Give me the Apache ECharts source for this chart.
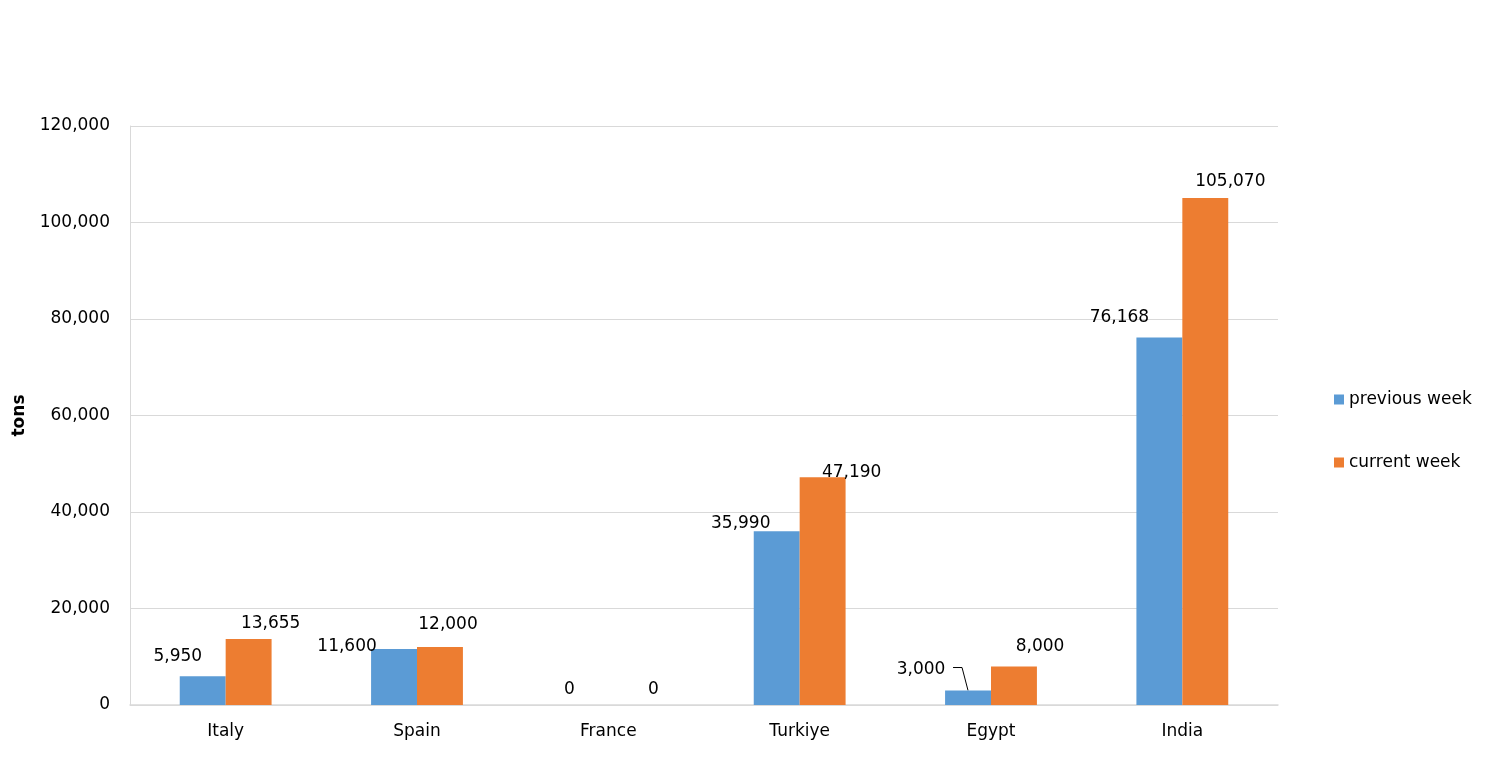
<!DOCTYPE html>
<html>
<head>
<meta charset="utf-8">
<title>tons by country</title>
<script src="https://cdn.jsdelivr.net/npm/echarts@6/dist/echarts.min.js"></script>
<style>
  html, body { margin: 0; padding: 0; background: #fff; }
  #chart { width: 1512px; height: 774px; }
</style>
</head>
<body>
<div id="chart"></div>
<script>
    'use strict';
    // data
    var countries = ['Italy', 'Spain', 'France', 'Turkiye', 'Egypt', 'India'];
    var previousWeek = [5950, 11600, 0, 35990, 3000, 76168];
    var currentWeek = [13655, 12000, 0, 47190, 8000, 105070];
    var yTicks = [0, 20000, 40000, 60000, 80000, 100000, 120000];

    // label placement (offset from bar top centre, px)
    var prevLabelShift = [[-25, -20], [-47, -2], [-16, -15], [-36, -8], [-47, -21], [-40, -20]];
    var currLabelShift = [[22, -16], [8, -23], [22, -15], [29, -5], [26, -20], [25, -16]];
    var leaderIndex = 4; // Egypt, previous week

    var font = 'DejaVu Sans';
    var fmt = function(v) { return Number(v).toLocaleString('en-US'); };

    function buildItems(values, shifts) {
        return values.map(function(v, i) {
            return {
                value : v,
                label : {
                    position : [23 + shifts[i][0], shifts[i][1]],
                    align : 'center',
                    verticalAlign : 'middle'
                }
            };
        });
    }

    var chart = echarts.init(document.getElementById('chart'), null, { renderer : 'canvas' });
    chart.setOption({
        backgroundColor : '#fff',
        animation : false,
        textStyle : { fontFamily : font },
        grid : { left : 130, right : 234, top : 126, bottom : 69 },
        legend : {
            orient : 'vertical',
            left : 1329,
            top : 386,
            icon : 'rect',
            itemWidth : 10,
            itemHeight : 10,
            itemGap : 46,
            textStyle : { fontFamily : font, fontSize : 17, color : '#000' },
            data : ['previous week', 'current week']
        },
        xAxis : {
            type : 'category',
            data : countries,
            axisLine : { lineStyle : { color : '#d9d9d9', width : 1.5 } },
            axisTick : { show : false },
            axisLabel : { fontFamily : font, fontSize : 17, color : '#000', margin : 18 }
        },
        yAxis : {
            type : 'value',
            min : yTicks[0],
            max : yTicks[yTicks.length - 1],
            interval : yTicks[1] - yTicks[0],
            name : 'tons',
            nameLocation : 'middle',
            nameGap : 102,
            nameTextStyle : { fontFamily : font, fontSize : 17, fontWeight : 'bold', color : '#000' },
            axisLine : { show : true, lineStyle : { color : '#d9d9d9' } },
            axisTick : { show : false },
            splitLine : { lineStyle : { color : '#d9d9d9' } },
            axisLabel : { fontFamily : font, fontSize : 17, color : '#000', margin : 20, formatter : fmt }
        },
        series : [{
            name : 'previous week',
            type : 'bar',
            barGap : '0%',
            barCategoryGap : '52%',
            itemStyle : { color : '#5B9BD5' },
            label : { show : true, fontFamily : font, fontSize : 17, color : '#000', formatter : function(p) { return fmt(p.value); } },
            data : buildItems(previousWeek, prevLabelShift)
        }, {
            name : 'current week',
            type : 'bar',
            barGap : '0%',
            barCategoryGap : '52%',
            itemStyle : { color : '#ED7D31' },
            label : { show : true, fontFamily : font, fontSize : 17, color : '#000', formatter : function(p) { return fmt(p.value); } },
            data : buildItems(currentWeek, currLabelShift)
        }]
    });

    // leader line from the Egypt label down to its bar top
    var layout = chart.getModel().getSeriesByIndex(0).getData().getItemLayout(leaderIndex);
    var topX = layout.x + layout.width / 2;
    var topY = layout.y + layout.height;
    chart.setOption({
        graphic : [{
            type : 'polyline',
            silent : true,
            shape : { points : [[topX - 15, topY - 23], [topX - 6, topY - 23], [topX, topY]] },
            style : { stroke : '#000', lineWidth : 1, fill : null }
        }]
    });
</script>
</body>
</html>
